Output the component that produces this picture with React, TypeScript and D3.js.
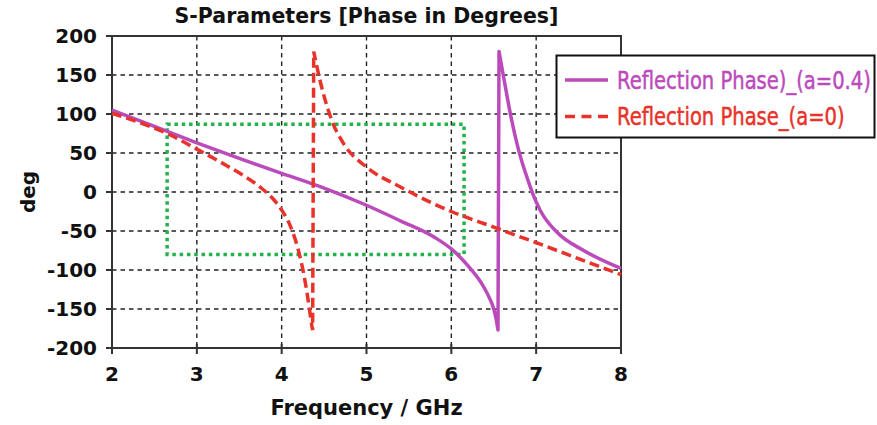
import React from "react";
import * as d3 from "d3";

// ---- Data ----
// a = 0.4 (solid purple): branch before the phase wrap, then after it
const freqA04Pre = [2.0, 2.5, 3.0, 3.5, 4.0, 4.5, 5.0, 5.4, 5.8, 6.0, 6.2, 6.35, 6.45, 6.5, 6.53, 6.55];
const phaseA04Pre = [105, 84, 63, 43, 24, 5, -17, -37, -58, -73, -95, -116, -136, -150, -164, -177];
const freqA04Post = [6.562, 6.62, 6.70, 6.79, 6.91, 6.97, 7.05, 7.24, 7.56, 8.0];
const phaseA04Post = [180, 145, 98, 55, 13, -5, -24, -51, -75, -98];

// a = 0 (dashed red): branch before the phase wrap, then after it
const freqA0Pre = [2.0, 2.3, 2.65, 3.0, 3.3, 3.55, 3.75, 3.9, 4.0, 4.1, 4.2, 4.26, 4.3, 4.33, 4.35, 4.365];
const phaseA0Pre = [101, 90, 75, 55, 37, 21, 6, -9, -23, -43, -76, -105, -130, -152, -168, -177];
const freqA0Post = [4.378, 4.45, 4.59, 4.73, 5.0, 5.39, 5.79, 6.0, 6.5, 7.0, 7.44, 8.0];
const phaseA0Post = [180, 144, 92, 62, 32, 7, -15, -25, -45, -65, -83, -106];

const xTicks = [2, 3, 4, 5, 6, 7, 8];
const yTicks = [-200, -150, -100, -50, 0, 50, 100, 150, 200];
const boxFreq = [2.65, 6.15];
const boxPhase = [-80, 87];

const seriesNames = ["Reflection Phase)_(a=0.4)", "Reflection Phase_(a=0)"];
const title = "S-Parameters [Phase in Degrees]";
const xLabel = "Frequency / GHz";
const yLabel = "deg";

// ---- Layout / style ----
const W = 877, H = 425;
const left = 112, right = 621, top = 36, bottom = 348;
const purple = "#BB4BBB";
const red = "#E8322A";
const green = "#22B24C";
const axisColor = "#333";
const font = "'DejaVu Sans', Verdana, sans-serif";

type P = [number, number];
const zip = (xs: number[], ys: number[]): P[] => xs.map((v, i) => [v, ys[i]] as P);

export default function App() {
  const x = d3.scaleLinear().domain([2, 8]).range([left, right]);
  const y = d3.scaleLinear().domain([-200, 200]).range([bottom, top]);

  const line = d3
    .line<P>()
    .x((d) => x(d[0]))
    .y((d) => y(d[1]))
    .curve(d3.curveMonotoneX);

  // each branch is smoothed on its own; the wrap is a straight jump joining them
  const joined = (a: P[], b: P[]) => (line(a) || "") + (line(b) || "").replace(/^M/, "L");

  const dA04 = joined(zip(freqA04Pre, phaseA04Pre), zip(freqA04Post, phaseA04Post));
  const dA0 = joined(zip(freqA0Pre, phaseA0Pre), zip(freqA0Post, phaseA0Post));

  const lgX = 556.5, lgY = 55.5, lgW = 318, lgH = 82;
  const squeeze = 0.815;

  return (
    <svg
      width={W}
      height={H}
      style={{ position: "absolute", left: 0, top: 0, background: "#fff" }}
      fontFamily={font}
    >
      <rect x={0} y={0} width={W} height={H} fill="#fff" />
      {/* grid */}
      <g stroke="#222" strokeWidth={1.4} strokeDasharray="4.5,4">
        {yTicks.slice(1, -1).map((t) => (
          <line key={"gy" + t} x1={left} x2={right} y1={y(t)} y2={y(t)} />
        ))}
        {xTicks.slice(1, -1).map((t) => (
          <line key={"gx" + t} x1={x(t)} x2={x(t)} y1={top} y2={bottom} />
        ))}
      </g>
      {/* green dotted box */}
      <rect
        x={x(boxFreq[0])}
        y={y(boxPhase[1])}
        width={x(boxFreq[1]) - x(boxFreq[0])}
        height={y(boxPhase[0]) - y(boxPhase[1])}
        fill="none"
        stroke={green}
        strokeWidth={3.5}
        strokeDasharray="3.5,3.8"
      />
      {/* frame */}
      <rect x={left} y={top} width={right - left} height={bottom - top} fill="none" stroke={axisColor} strokeWidth={2} />
      {/* ticks */}
      <g stroke={axisColor} strokeWidth={2}>
        {yTicks.map((t) => (
          <line key={"ty" + t} x1={left - 6} x2={left} y1={y(t)} y2={y(t)} />
        ))}
        {xTicks.map((t) => (
          <line key={"tx" + t} x1={x(t)} x2={x(t)} y1={bottom - 4} y2={bottom + 6} />
        ))}
      </g>
      {/* curves */}
      <path d={dA04} fill="none" stroke={purple} strokeWidth={3.5} strokeLinejoin="round" />
      <path d={dA0} fill="none" stroke={red} strokeWidth={3.5} strokeDasharray="10,5" />
      {/* tick labels */}
      <g fontWeight="bold" fontSize={20} fill="#111">
        {yTicks.map((t) => (
          <text key={"ly" + t} x={left - 15} y={y(t)} dy="0.36em" textAnchor="end">
            {t}
          </text>
        ))}
        {xTicks.map((t) => (
          <text key={"lx" + t} x={x(t)} y={381} textAnchor="middle">
            {t}
          </text>
        ))}
      </g>
      {/* axis titles */}
      <text x={(left + right) / 2} y={415} textAnchor="middle" fontWeight="bold" fontSize={21} fill="#111">
        {xLabel}
      </text>
      <text
        transform={`translate(35,${(top + bottom) / 2}) rotate(-90)`}
        textAnchor="middle"
        fontWeight="bold"
        fontSize={20}
        fill="#111"
      >
        {yLabel}
      </text>
      <text x={(left + right) / 2} y={23} textAnchor="middle" fontWeight="bold" fontSize={20.5} fill="#111">
        {title}
      </text>
      {/* legend */}
      <rect x={lgX} y={lgY} width={lgW} height={lgH} fill="#fff" stroke="#111" strokeWidth={2} />
      <line x1={565} x2={608} y1={80} y2={80} stroke={purple} strokeWidth={3.5} />
      <line x1={565} x2={608} y1={116.5} y2={116.5} stroke={red} strokeWidth={3.5} strokeDasharray="10,6.5" />
      <text transform={`translate(617,89) scale(${squeeze},1)`} fontSize={24} fill={purple} stroke={purple} strokeWidth={0.5}>
        {seriesNames[0]}
      </text>
      <text transform={`translate(617,125) scale(${squeeze},1)`} fontSize={24} fill={red} stroke={red} strokeWidth={0.5}>
        {seriesNames[1]}
      </text>
    </svg>
  );
}
